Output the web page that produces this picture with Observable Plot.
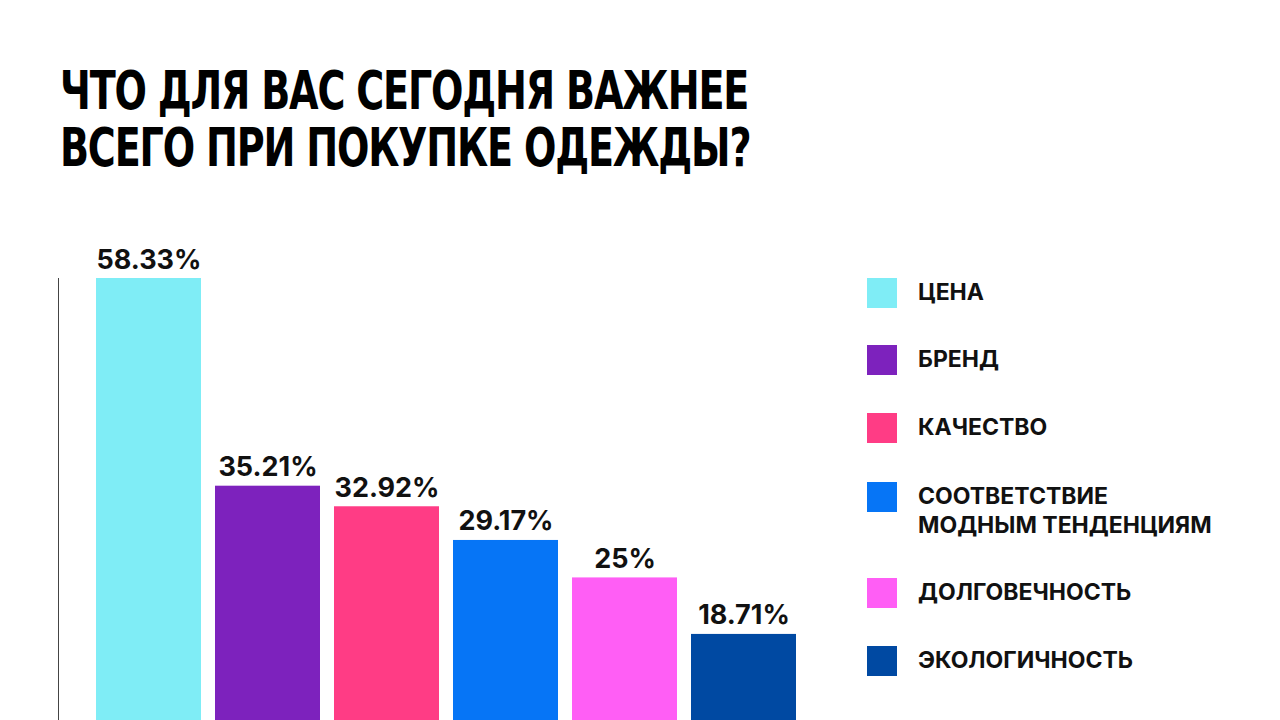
<!DOCTYPE html>
<html>
<head>
<meta charset="utf-8">
<script src="https://cdn.jsdelivr.net/npm/d3@7"></script>
<script src="https://cdn.jsdelivr.net/npm/@observablehq/plot@0.6"></script>
<style>
  html, body { margin: 0; padding: 0; background: #fff; width: 1280px; height: 720px; overflow: hidden; }
  #page { position: relative; width: 1280px; height: 720px; overflow: hidden; }
  #title { position: absolute; left: 60px; top: 62px; margin: 0;
    font-family: "Liberation Sans Narrow", "DejaVu Sans Condensed", sans-serif;
    font-weight: 700; font-size: 53px; line-height: 57px; color: #000; letter-spacing: -1.5px; white-space: nowrap;
    transform: scaleX(0.80); transform-origin: 0 0; }
  #chart { position: absolute; left: 0; top: 200px; }
  #legend { position: absolute; left: 867px; top: 0; font-family: Inter, "Noto Sans", sans-serif; font-weight: 700; font-size: 23px; color: #111; }
  .item { position: absolute; left: 0; display: flex; align-items: flex-start; white-space: nowrap; }
  .sw { width: 30px; height: 30px; flex: none; }
  .lab { margin-left: 21px; line-height: 29px; }
</style>
</head>
<body>
<div id="page">
  <h1 id="title">ЧТО ДЛЯ ВАС СЕГОДНЯ ВАЖНЕЕ<br>ВСЕГО ПРИ ПОКУПКЕ ОДЕЖДЫ?</h1>
  <div id="chart"></div>
  <div id="legend"></div>
</div>
<script>
const categories = ["ЦЕНА", "БРЕНД", "КАЧЕСТВО", "СООТВЕТСТВИЕ МОДНЫМ ТЕНДЕНЦИЯМ", "ДОЛГОВЕЧНОСТЬ", "ЭКОЛОГИЧНОСТЬ"];
const legendLabels = ["ЦЕНА", "БРЕНД", "КАЧЕСТВО", "СООТВЕТСТВИЕ<br>МОДНЫМ ТЕНДЕНЦИЯМ", "ДОЛГОВЕЧНОСТЬ", "ЭКОЛОГИЧНОСТЬ"];
const values = [58.33, 35.21, 32.92, 29.17, 25, 18.71];
const colors = ["#7FEDF6", "#7D22BD", "#FF3C85", "#0675F6", "#FF5EF5", "#0049A2"];

const data = categories.map((c, i) => ({category: c, value: values[i]}));

const chart = Plot.plot({
  width: 834,
  height: 602,
  marginLeft: 58,
  marginRight: 0,
  marginTop: 78,
  marginBottom: 0,
  x: {domain: categories, paddingInner: 0.12, paddingOuter: 0.31, axis: null},
  y: {domain: [0, 58.33], axis: null},
  color: {domain: categories, range: colors},
  marks: [
    Plot.frame({anchor: "left", stroke: "#444", strokeWidth: 1}),
    Plot.barY(data, {x: "category", y: "value", fill: "category"}),
    Plot.text(data, {
      x: "category", y: "value", text: d => d.value + "%",
      lineAnchor: "bottom", dy: -10, fontSize: 27, fontWeight: 700, fill: "#111",
      fontFamily: "Inter, 'Noto Sans', sans-serif"
    })
  ],
  style: {background: "transparent", overflow: "visible"}
});
document.getElementById("chart").appendChild(chart);

const legendTops = [278, 345, 413, 482, 578, 646];
const legend = document.getElementById("legend");
categories.forEach((c, i) => {
  const it = document.createElement("div");
  it.className = "item";
  it.style.top = legendTops[i] + "px";
  it.innerHTML = `<div class="sw" style="background:${colors[i]}"></div><div class="lab">${legendLabels[i]}</div>`;
  legend.appendChild(it);
});
</script>
</body>
</html>
